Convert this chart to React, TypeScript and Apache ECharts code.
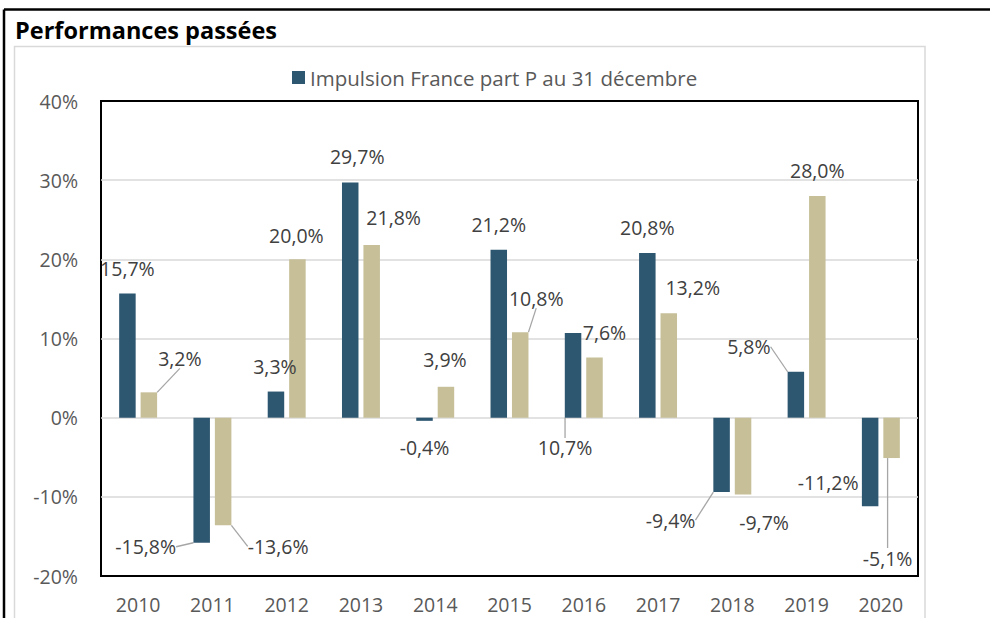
import React, { useEffect, useRef } from "react";
import * as echarts from "echarts";

const years = ["2010", "2011", "2012", "2013", "2014", "2015", "2016", "2017", "2018", "2019", "2020"];
const fundName = "Impulsion France part P au 31 décembre";
const benchName = "Indice de référence";
const fundValues = [15.7, -15.8, 3.3, 29.7, -0.4, 21.2, 10.7, 20.8, -9.4, 5.8, -11.2];
const benchValues = [3.2, -13.6, 20.0, 21.8, 3.9, 10.8, 7.6, 13.2, -9.7, 28.0, -5.1];

// label offsets (dx, dy) from default outside position, and whether a leader line is drawn
const fundLabelOffsets = [[0, -10], [-56, -11], [-1, -10], [7, -11], [0, 12], [0, -10], [-8, 130], [0, -11], [-51, 13], [-47, -10], [-42, -39]];
const fundLeader = [false, true, false, false, false, false, true, false, true, true, false];
const benchLabelOffsets = [[31, -19], [55, 6], [-1, -9], [22, -13], [-1, -12], [16, -19], [10, -10], [24, -11], [21, 13], [0, -11], [-4, 85]];
const benchLeader = [true, true, false, false, false, true, false, false, false, false, true];

const FONT = "'Open Sans', 'Noto Sans', sans-serif";
const fmt = (v: number) => v.toFixed(1).replace(".", ",") + "%";

export default function App() {
  const ref = useRef<HTMLDivElement>(null);
  useEffect(() => {
    if (!ref.current) return;
    const chart = echarts.init(ref.current, undefined, { renderer: "svg" });
    const makeData = (vals: number[], leader: boolean[]) =>
      vals.map((v, i) => ({ value: v, labelLine: { show: leader[i] } }));
    const labelCommon = {
      show: true,
      position: "outside" as any,
      distance: 5,
      color: "#404040",
      fontSize: 19.5,
      fontFamily: FONT,
      formatter: (p: any) => fmt(p.value),
    };
    chart.setOption({
      animation: false,
      textStyle: { fontFamily: FONT },
      graphic: [
        { type: "line", shape: { x1: 4, y1: 9.5, x2: 990, y2: 9.5 }, style: { stroke: "#000", lineWidth: 2.5 }, silent: true },
        { type: "line", shape: { x1: 4, y1: 9.5, x2: 4, y2: 618 }, style: { stroke: "#000", lineWidth: 2.5 }, silent: true },
        { type: "rect", shape: { x: 14.5, y: 46.5, width: 910.5, height: 800 }, style: { fill: "none", stroke: "#d9d9d9", lineWidth: 1.5 }, silent: true },
        { type: "text", x: 15, y: 30, style: { text: "Performances passées", font: `bold 23.5px ${FONT}`, fill: "#000", verticalAlign: "middle", align: "left" } },
      ],
      legend: {
        data: [fundName],
        left: 292,
        top: 67,
        padding: 0,
        itemWidth: 13,
        itemHeight: 13,
        icon: "rect",
        textStyle: { color: "#595959", fontSize: 20.5, fontFamily: FONT },
      },
      grid: { left: 101, top: 101, right: 72, bottom: 42, show: true, borderColor: "#000", borderWidth: 2, backgroundColor: "transparent" },
      xAxis: {
        type: "category",
        data: years,
        axisLine: { show: false },
        axisTick: { show: false },
        axisLabel: { color: "#595959", fontSize: 19.5, fontFamily: FONT, margin: 18 },
      },
      yAxis: {
        type: "value",
        min: -20,
        max: 40,
        interval: 10,
        axisLine: { show: false },
        axisTick: { show: false },
        axisLabel: { color: "#595959", fontSize: 19.5, fontFamily: FONT, margin: 23, formatter: "{value}%" },
        splitLine: { show: true, showMinLine: false, showMaxLine: false, lineStyle: { color: "#d9d9d9", width: 1.5 } },
      },
      series: [
        {
          name: fundName,
          type: "bar",
          data: makeData(fundValues, fundLeader),
          barWidth: 16.5,
          barGap: "30%",
          itemStyle: { color: "#2d5670" },
          label: labelCommon,
          labelLine: { show: true, lineStyle: { color: "#a6a6a6", width: 1.3 } },
          labelLayout: (p: any) => ({ dx: fundLabelOffsets[p.dataIndex][0], dy: fundLabelOffsets[p.dataIndex][1] }),
        },
        {
          name: benchName,
          type: "bar",
          data: makeData(benchValues, benchLeader),
          barWidth: 16.5,
          barGap: "30%",
          itemStyle: { color: "#c6bf98" },
          label: labelCommon,
          labelLine: { show: true, lineStyle: { color: "#a6a6a6", width: 1.3 } },
          labelLayout: (p: any) => ({ dx: benchLabelOffsets[p.dataIndex][0], dy: benchLabelOffsets[p.dataIndex][1] }),
        },
      ],
    });
    return () => chart.dispose();
  }, []);
  return <div ref={ref} style={{ position: "absolute", left: 0, top: 0, width: 990, height: 618, background: "#fff" }} />;
}
